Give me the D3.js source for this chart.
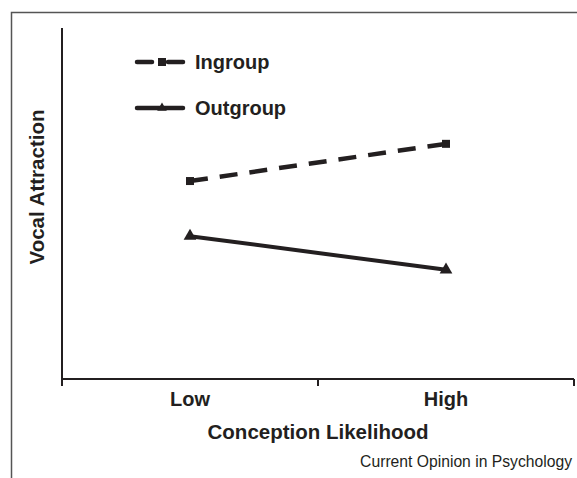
<!DOCTYPE html>
<html>
<head>
<meta charset="utf-8">
<script src="https://cdn.jsdelivr.net/npm/d3@7"></script>
<style>
  html, body { margin: 0; background: #fff; overflow: hidden; }
  svg { display: block; }
  text { font-family: "Liberation Sans", Arial, sans-serif; fill: #231f20; }
</style>
</head>
<body>
<svg id="chart"></svg>
<script>
const categories = ["Low", "High"]
const ingroup = [5.64, 6.70]
const outgroup = [4.07, 3.11]
const seriesNames = ["Ingroup", "Outgroup"]

const width = 577
const height = 478
const margin = ({top: 28, right: 3, bottom: 99, left: 62})
const ink = "#231f20"

const svg = d3.select("#chart")
    .attr("width", width)
    .attr("height", height)

// frame (cut off on right and bottom)
svg.append("path")
    .attr("d", `M11.5,${height}V12.5H${width}`)
    .attr("fill", "none")
    .attr("stroke", "#555")
    .attr("stroke-width", 1.5)

const x = d3.scaleBand()
    .domain(categories)
    .range([margin.left, width - margin.right])
    .padding(0)

const y = d3.scaleLinear()
    .domain([0, 10])
    .range([height - margin.bottom, margin.top])

const xc = d => x(d) + x.bandwidth() / 2

// x axis
const xAxis = svg.append("g")
    .attr("transform", `translate(0,${y(0)})`)
xAxis.append("line")
    .attr("x1", margin.left).attr("x2", width - margin.right)
    .attr("stroke", ink).attr("stroke-width", 2)
const tickPos = [x(categories[0]), x(categories[1]), x(categories[1]) + x.bandwidth()]
xAxis.selectAll(".tk")
    .data(tickPos)
    .join("line")
    .attr("x1", d => d).attr("x2", d => d)
    .attr("y1", 0).attr("y2", 7)
    .attr("stroke", ink).attr("stroke-width", 2)
xAxis.selectAll(".lbl")
    .data(categories)
    .join("text")
    .attr("x", d => xc(d))
    .attr("y", 27)
    .attr("text-anchor", "middle")
    .attr("font-size", 20)
    .attr("font-weight", "bold")
    .text(d => d)

// y axis
svg.append("line")
    .attr("x1", margin.left).attr("x2", margin.left)
    .attr("y1", y(10)).attr("y2", y(0) + 7)
    .attr("stroke", ink).attr("stroke-width", 2)

// axis titles
svg.append("text")
    .attr("x", (margin.left + width - margin.right) / 2)
    .attr("y", 439)
    .attr("text-anchor", "middle")
    .attr("font-size", 20.5)
    .attr("font-weight", "bold")
    .text("Conception Likelihood")

svg.append("text")
    .attr("transform", `translate(44,${187}) rotate(-90)`)
    .attr("text-anchor", "middle")
    .attr("font-size", 20.5)
    .attr("font-weight", "bold")
    .text("Vocal Attraction")

svg.append("text")
    .attr("x", 572)
    .attr("y", 467)
    .attr("text-anchor", "end")
    .attr("font-size", 15.7)
    .text("Current Opinion in Psychology")

// lines
const lineGen = d3.line()
    .x((d, i) => xc(categories[i]))
    .y(d => y(d))

svg.append("path")
    .attr("d", lineGen(ingroup))
    .attr("fill", "none")
    .attr("stroke", ink)
    .attr("stroke-width", 4.5)
    .attr("stroke-dasharray", "18,12")

svg.append("path")
    .attr("d", lineGen(outgroup))
    .attr("fill", "none")
    .attr("stroke", ink)
    .attr("stroke-width", 4)

const square = d3.symbol().type(d3.symbolSquare).size(64)
const triangle = d3.symbol().type(d3.symbolTriangle).size(70)

svg.selectAll(".sq")
    .data(ingroup)
    .join("path")
    .attr("transform", (d, i) => `translate(${xc(categories[i])},${y(d)})`)
    .attr("d", square)
    .attr("fill", ink)

svg.selectAll(".tri")
    .data(outgroup)
    .join("path")
    .attr("transform", (d, i) => `translate(${xc(categories[i])},${y(d)})`)
    .attr("d", triangle)
    .attr("fill", ink)

// legend
const legend = svg.append("g")
const rows = [
  {name: seriesNames[0], y: 62, segs: [[137, 152], [168, 183]], sym: square},
  {name: seriesNames[1], y: 108, segs: [[137, 183]], sym: d3.symbol().type(d3.symbolTriangle).size(40)}
]
rows.forEach(r => {
  r.segs.forEach(s => {
    legend.append("line")
        .attr("x1", s[0]).attr("x2", s[1])
        .attr("y1", r.y).attr("y2", r.y)
        .attr("stroke", ink)
        .attr("stroke-width", 4.5)
        .attr("stroke-linecap", "round")
  })
  legend.append("path")
      .attr("transform", `translate(162,${r.y})`)
      .attr("d", r.sym)
      .attr("fill", ink)
  legend.append("text")
      .attr("x", 195)
      .attr("y", r.y + 7)
      .attr("font-size", 20)
      .attr("font-weight", "bold")
      .text(r.name)
})
</script>
</body>
</html>
